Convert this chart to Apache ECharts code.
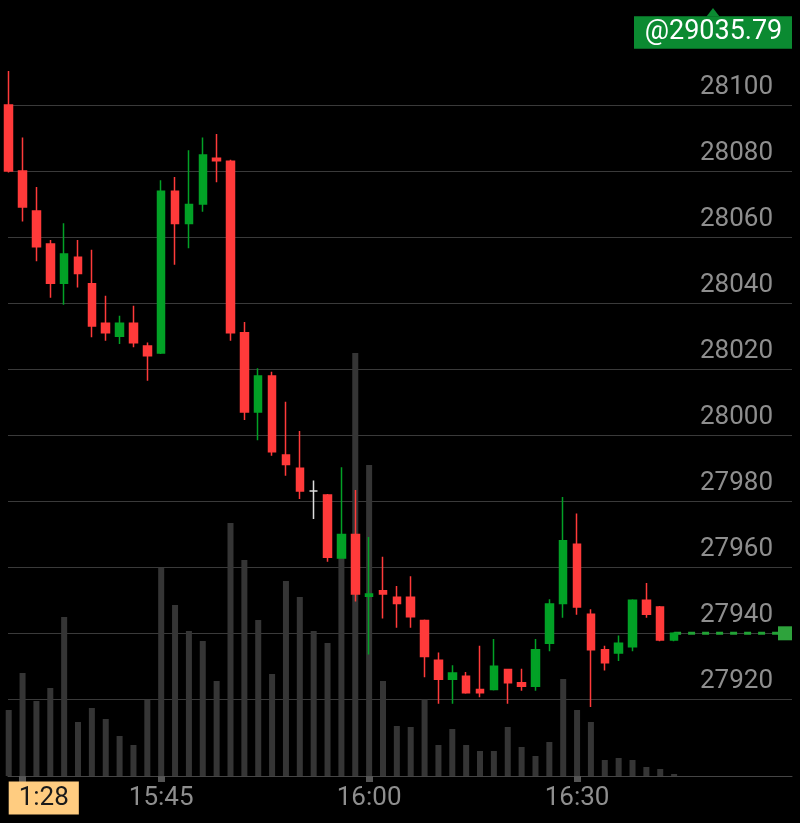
<!DOCTYPE html>
<html>
<head>
<meta charset="utf-8">
<style>
  html, body { margin: 0; padding: 0; background: #000; }
  #chart { width: 800px; height: 823px; }
</style>
<script src="https://cdn.jsdelivr.net/npm/echarts@6/dist/echarts.min.js"></script>
</head>
<body>
<div id="chart"></div>
<script>
// ---- data ----
// candles: [open, close, low, high]
const candles = [
  [28100.0, 28080.0, 28079.6, 28110.3],
  [28080.0, 28069.1, 28064.7, 28090.2],
  [28067.9, 28057.1, 28052.7, 28075.2],
  [28057.9, 28046.0, 28041.6, 28059.1],
  [28046.0, 28054.9, 28039.5, 28064.2],
  [28053.9, 28049.0, 28044.7, 28059.1],
  [28045.9, 28033.1, 28029.7, 28056.2],
  [28033.9, 28031.0, 28028.6, 28042.2],
  [28030.0, 28033.9, 28027.6, 28036.2],
  [28033.9, 28028.0, 28026.6, 28039.2],
  [28027.0, 28024.1, 28016.5, 28028.1],
  [28024.9, 28073.9, 28024.6, 28077.2],
  [28073.9, 28064.1, 28051.6, 28078.2],
  [28064.1, 28069.9, 28056.6, 28086.3],
  [28070.0, 28084.9, 28067.7, 28090.2],
  [28083.9, 28083.1, 28076.6, 28091.2],
  [28083.0, 28031.0, 28028.6, 28083.4],
  [28031.0, 28007.0, 28004.6, 28034.3],
  [28007.0, 28017.9, 27998.5, 28020.3],
  [28017.9, 27995.0, 27993.8, 28019.2],
  [27994.0, 27991.1, 27987.7, 28010.1],
  [27990.0, 27983.1, 27980.7, 28001.3],
  [27983.1, 27983.1, 27974.6, 27986.3],
  [27981.9, 27963.0, 27961.7, 27982.2],
  [27962.8, 27969.9, 27962.6, 27990.3],
  [27969.9, 27951.9, 27949.6, 27983.4],
  [27951.2, 27951.9, 27933.6, 27969.2],
  [27952.9, 27951.9, 27944.5, 27963.2],
  [27950.9, 27949.0, 27941.7, 27954.3],
  [27950.9, 27945.0, 27941.7, 27957.3],
  [27943.9, 27933.0, 27926.7, 27944.2],
  [27931.8, 27926.1, 27918.7, 27934.2],
  [27926.1, 27928.0, 27918.7, 27930.3],
  [27927.0, 27922.0, 27921.7, 27928.3],
  [27923.0, 27922.0, 27920.6, 27936.2],
  [27923.0, 27930.0, 27922.7, 27938.3],
  [27929.0, 27925.0, 27918.7, 27929.3],
  [27925.0, 27924.0, 27922.6, 27929.3],
  [27924.0, 27935.0, 27922.6, 27938.3],
  [27937.0, 27948.9, 27934.6, 27950.3],
  [27949.0, 27968.0, 27944.7, 27981.3],
  [27967.0, 27948.0, 27945.6, 27976.3],
  [27945.8, 27935.0, 27917.7, 27947.3],
  [27935.0, 27931.1, 27928.7, 27936.2],
  [27934.0, 27937.0, 27931.6, 27939.3],
  [27935.9, 27950.0, 27934.6, 27950.3],
  [27950.0, 27945.8, 27944.7, 27955.2],
  [27948.0, 27938.0, 27937.6, 27948.3],
  [27938.0, 27940.0, 27937.6, 27940.3]
];
const volumes = [
  66, 103, 75, 88, 159, 54, 68, 57, 40, 31,
  76, 208, 171, 145, 135, 95, 253, 216, 156, 102,
  195, 179, 145, 133, 231, 423, 311, 95, 50, 49,
  77, 31, 47, 31, 25, 25, 49, 29, 20, 34,
  97, 66, 54, 16, 18, 16, 9, 7, 2
];
const slotCount = 57;                       // time slots on the x axis (incl. empty future slots)
const categories = Array.from({ length: slotCount }, (_, i) => String(i));
const tickIdx = [1, 11, 26, 41];
const tickLabels = ['1:28', '15:45', '16:00', '16:30'];
const priceTicks = { min: 27920, max: 28100, step: 20 };
const priceExtent = [27896.78, 28131.81];
const volumeMax = 776;
const markerText = '@29035.79';

// ---- chart ----
const lastIdx = candles.length - 1;
const lastClose = candles[lastIdx][1];
const labelPos = tickIdx.map((t, k) => (k === 0 ? 0 : t));

const RED = '#ff3a3a', GREEN = '#02a126', GREY = '#8e8e8e';
const FONT = 'Roboto';

const chart = echarts.init(document.getElementById('chart'), null, { renderer: 'canvas' });

chart.setOption({
  backgroundColor: '#000',
  animation: false,
  textStyle: { fontFamily: FONT },
  grid: [
    { left: 8.7, right: 15, top: 0, bottom: 47 },
    { left: 8, right: 8, top: 105, bottom: 123.7 }
  ],
  xAxis: [
    {
      type: 'category', gridIndex: 0, data: categories, boundaryGap: false,
      axisLine: { show: false },
      axisTick: {
        show: true, interval: (i) => tickIdx.includes(i), length: 6,
        lineStyle: { color: '#555', width: 7 }
      },
      axisLabel: {
        show: true,
        interval: (i) => labelPos.includes(i),
        alignMinLabel: 'left',
        margin: 9,
        formatter: (v, i) => {
          const k = labelPos.indexOf(i);
          if (k < 0) return '';
          return k === 0 ? '{hl|' + tickLabels[0] + '}' : '{n|' + tickLabels[k] + '}';
        },
        rich: {
          hl: { backgroundColor: '#ffcc80', color: '#1a1a1a', fontSize: 26, fontFamily: FONT, lineHeight: 26, padding: [4, 10, 3, 10] },
          n: { color: GREY, fontSize: 26, fontFamily: FONT, lineHeight: 26, padding: [4, 0, 3, 0] }
        }
      },
      splitLine: { show: false }
    },
    {
      type: 'value', gridIndex: 1, min: 0, max: 1, position: 'bottom', offset: 76.7,
      axisLine: { show: true, lineStyle: { color: '#454545', width: 1 } },
      axisTick: { show: false }, axisLabel: { show: false }, splitLine: { show: false }
    }
  ],
  yAxis: [
    { type: 'value', gridIndex: 0, min: priceExtent[0], max: priceExtent[1], show: false },
    { type: 'value', gridIndex: 0, min: 0, max: volumeMax, show: false },
    {
      type: 'value', gridIndex: 1, position: 'right',
      min: priceTicks.min, max: priceTicks.max, interval: priceTicks.step,
      axisLine: { show: false }, axisTick: { show: false },
      splitLine: { show: true, lineStyle: { color: '#3a3a3a', width: 1 } },
      axisLabel: {
        inside: true, margin: 19, color: GREY, fontSize: 26, fontFamily: FONT,
        verticalAlign: 'bottom', lineHeight: 36,
        formatter: (v) => String(v)
      }
    }
  ],
  series: [
    {
      type: 'bar', name: 'volume', xAxisIndex: 0, yAxisIndex: 1,
      data: volumes, barWidth: 6, itemStyle: { color: '#353535' }, z: 1
    },
    {
      type: 'line', name: 'last', xAxisIndex: 0, yAxisIndex: 0,
      data: [[lastIdx, lastClose], [slotCount - 1, lastClose]],
      showSymbol: true, showAllSymbol: true,
      symbol: (val, params) => (params.dataIndex === 1 ? 'rect' : 'none'),
      symbolSize: 14,
      clip: false,
      lineStyle: { color: '#22a236', width: 3, type: [7, 7] },
      itemStyle: { color: '#2ea33c' },
      z: 2
    },
    {
      type: 'candlestick', name: 'price', xAxisIndex: 0, yAxisIndex: 0,
      data: candles, barWidth: 8,
      itemStyle: {
        color: GREEN, color0: RED, borderColor: GREEN, borderColor0: RED,
        borderColorDoji: '#dddddd', borderWidth: 1.5
      },
      z: 3
    }
  ],
  graphic: [
    {
      type: 'group', left: 634, top: 8,
      children: [
        { type: 'polygon', shape: { points: [[72.5, 9], [79, 0.5], [85.5, 9]] }, style: { fill: '#0b8a31' } },
        { type: 'rect', shape: { x: 0, y: 8.7, width: 158, height: 32.5 }, style: { fill: '#0b8a31' } },
        {
          type: 'text', x: 79.5, y: 25,
          style: { text: markerText, fill: '#ffffff', font: '27px Roboto', align: 'center', verticalAlign: 'middle' }
        }
      ]
    }
  ]
});
</script>
</body>
</html>
